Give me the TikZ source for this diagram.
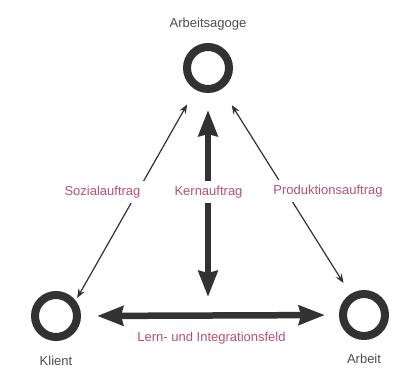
\documentclass[tikz,border=0pt]{standalone}
\usepackage{fontspec}
\setmainfont{Liberation Sans}
\usepackage{tikz}
\usetikzlibrary{positioning,arrows.meta}
\definecolor{ink}{RGB}{50,50,50}
\definecolor{rose}{RGB}{184,82,112}
\definecolor{greytext}{RGB}{78,78,78}
\newcommand{\labelfont}{\fontsize{13}{15}\selectfont}

\begin{document}
\begin{tikzpicture}[x=1pt,y=-1pt,
        ring/.style={circle,draw=ink,line width=8pt,minimum size=42pt,inner sep=0pt},
        rolelabel/.style={text=greytext,inner sep=0pt,font=\labelfont},
        tasklabel/.style={text=rose,fill=white,inner xsep=4pt,inner ysep=5pt,anchor=base,font=\labelfont},
        bigarrow/.style={ink,line width=6.5pt,
          {Stealth[length=26pt,width=19pt,inset=2pt]}-{Stealth[length=26pt,width=19pt,inset=2pt]}},
        thinarrow/.style={ink,line width=1.2pt,
          {Stealth[length=9pt,width=7pt]}-{Stealth[length=9pt,width=7pt]}}]
        \useasboundingbox[fill=white] (0,0) rectangle (403,381);
        % the three corners
        \node[ring] (agoge) at (208,68) {};
        \node[ring] (klient) at (56,316) {};
        \node[ring] (arbeit) at (364,315) {};
        \node[rolelabel,above=13pt of agoge] (agogename) {Arbeitsagoge};
        \node[rolelabel,below=14.5pt of klient] (klientname) {Klient};
        \node[rolelabel,below=14pt of arbeit] (arbeitname) {Arbeit};
        \coordinate (kern) at (208,297);
        % connectors
        \draw[thinarrow,shorten <=3pt,shorten >=17pt] (klient.38) -- (agoge.240);
        \draw[thinarrow,shorten <=19pt,shorten >=13pt] (agoge.303) -- (arbeit.123);
        \draw[bigarrow,shorten <=17pt] (agoge.south) -- (kern);
        \draw[bigarrow,shorten <=16pt,shorten >=14pt] (klient.east) -- (arbeit.west);
        % labels on top of the lines
        \node[tasklabel] (sozial) at (102.5,195) {Sozialauftrag};
        \node[tasklabel] (kernlabel) at (208.5,195) {Kernauftrag};
        \node[tasklabel] (produktion) at (328,194) {Produktionsauftrag};
        \node[tasklabel] (feld) at (211.5,341) {Lern- und Integrationsfeld};
      \end{tikzpicture}
\end{document}
